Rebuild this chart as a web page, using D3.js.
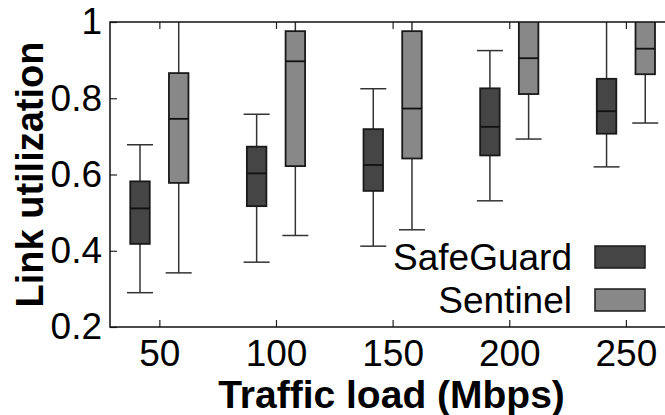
<!DOCTYPE html>
<html>
<head>
<meta charset="utf-8">
<script src="https://cdn.jsdelivr.net/npm/d3@7"></script>
<style>
  html, body { margin: 0; padding: 0; background: #fff; }
  svg { display: block; font-family: "Liberation Sans", Arial, Helvetica, sans-serif; }
</style>
</head>
<body>
<svg id="chart" width="665" height="415"></svg>
<script>
// ---- data ----
const categories = ["50", "100", "150", "200", "250"];
const seriesNames = ["SafeGuard", "Sentinel"];
const yTicks = [0.2, 0.4, 0.6, 0.8, 1];

const safeguardLow    = [0.290, 0.370, 0.412, 0.531, 0.620];
const safeguardQ1     = [0.418, 0.517, 0.557, 0.650, 0.707];
const safeguardMedian = [0.511, 0.603, 0.625, 0.725, 0.766];
const safeguardQ3     = [0.582, 0.673, 0.719, 0.826, 0.851];
const safeguardHigh   = [0.678, 0.758, 0.825, 0.925, 1.05];

const sentinelLow    = [0.342, 0.440, 0.455, 0.693, 0.735];
const sentinelQ1     = [0.578, 0.622, 0.642, 0.811, 0.863];
const sentinelMedian = [0.746, 0.897, 0.773, 0.905, 0.930];
const sentinelQ3     = [0.866, 0.976, 0.976, 1.03, 1.03];
const sentinelHigh   = [1.05, 1.05, 1.05, 1.1, 1.1];

// ---- build ----
const series = [
  { name: seriesNames[0], fill: "#454545", low: safeguardLow, q1: safeguardQ1, med: safeguardMedian, q3: safeguardQ3, high: safeguardHigh, off: -1 },
  { name: seriesNames[1], fill: "#888888", low: sentinelLow, q1: sentinelQ1, med: sentinelMedian, q3: sentinelQ3, high: sentinelHigh, off: 1 }
];
const boxes = [];
series.forEach(s => categories.forEach((c, i) => boxes.push({
  cat: c, s, low: s.low[i], q1: s.q1[i], med: s.med[i], q3: s.q3[i], high: s.high[i]
})));

const pLeft = 110, pRight = 675, pTop = 22, pBottom = 327;
const svg = d3.select("#chart");

const x = d3.scalePoint().domain(categories).range([159.35, 625.9]);
const y = d3.scaleLinear().domain([0.2, 1]).range([pBottom, pTop]);
const pairOffset = 19.35, boxW = 19.5, capW = 26;

svg.append("defs").append("clipPath").attr("id", "clip")
  .append("rect").attr("x", pLeft).attr("y", pTop).attr("width", pRight - pLeft).attr("height", pBottom - pTop);

const plot = svg.append("g").attr("clip-path", "url(#clip)");
const g = plot.selectAll("g.box").data(boxes).join("g").attr("class", "box")
  .attr("transform", d => `translate(${x(d.cat) + d.s.off * pairOffset},0)`);

const wc = "#333", ww = 1.5;
g.append("line").attr("x1", 0).attr("x2", 0).attr("y1", d => y(d.q3)).attr("y2", d => y(d.high))
  .attr("stroke", wc).attr("stroke-width", ww);
g.append("line").attr("x1", 0).attr("x2", 0).attr("y1", d => y(d.q1)).attr("y2", d => y(d.low))
  .attr("stroke", wc).attr("stroke-width", ww);
g.append("line").attr("x1", -capW / 2).attr("x2", capW / 2).attr("y1", d => y(d.high)).attr("y2", d => y(d.high))
  .attr("stroke", wc).attr("stroke-width", ww);
g.append("line").attr("x1", -capW / 2).attr("x2", capW / 2).attr("y1", d => y(d.low)).attr("y2", d => y(d.low))
  .attr("stroke", wc).attr("stroke-width", ww);
g.append("rect").attr("x", -boxW / 2).attr("width", boxW)
  .attr("y", d => y(d.q3)).attr("height", d => y(d.q1) - y(d.q3))
  .attr("fill", d => d.s.fill).attr("stroke", "#1a1a1a").attr("stroke-width", 1.8);
g.append("line").attr("x1", -boxW / 2).attr("x2", boxW / 2).attr("y1", d => y(d.med)).attr("y2", d => y(d.med))
  .attr("stroke", "#111").attr("stroke-width", 1.8);

// axes
const fontSize = 37;
const yAxis = svg.append("g").attr("transform", `translate(${pLeft},0)`)
  .call(d3.axisLeft(y).tickValues(yTicks).tickSize(-7).tickPadding(8)
    .tickFormat(d => d === 1 ? "1" : d3.format(".1f")(d)));
const xAxis = svg.append("g").attr("transform", `translate(0,${pBottom})`)
  .call(d3.axisBottom(x).tickSize(-7).tickPadding(12));
const xTop = svg.append("g").attr("transform", `translate(0,${pTop})`)
  .call(d3.axisTop(x).tickSize(-7).tickFormat(""));
[yAxis, xAxis, xTop].forEach(a => {
  a.select(".domain").remove();
  a.selectAll(".tick line").attr("stroke", "#222").attr("stroke-width", 1.2);
  a.selectAll(".tick text").attr("font-size", fontSize).attr("fill", "#000")
    .attr("font-family", '"Liberation Sans", Arial, sans-serif');
});
xAxis.selectAll(".tick text").attr("dy", "0.72em");

// frame
svg.append("path")
  .attr("d", `M${pRight},${pTop}H${pLeft}V${pBottom}H${pRight}`)
  .attr("fill", "none").attr("stroke", "#111").attr("stroke-width", 1.5);

// axis labels
svg.append("text").attr("x", 391.5).attr("y", 408).attr("text-anchor", "middle")
  .attr("font-size", 39).attr("font-weight", "bold").text("Traffic load (Mbps)");
svg.append("text").attr("transform", `translate(43,${(pTop + pBottom) / 2}) rotate(-90)`)
  .attr("text-anchor", "middle").attr("font-size", 38).attr("font-weight", "bold").text("Link utilization");

// legend
const leg = svg.append("g").selectAll("g").data(series).join("g")
  .attr("transform", (d, i) => `translate(0,${246 + i * 43})`);
leg.append("rect").attr("x", 595).attr("y", 0).attr("width", 50).attr("height", 22)
  .attr("fill", d => d.fill).attr("stroke", "#1a1a1a").attr("stroke-width", 1.5);
leg.append("text").attr("x", 572).attr("y", 24).attr("text-anchor", "end")
  .attr("font-size", fontSize).text(d => d.name);
</script>
</body>
</html>
